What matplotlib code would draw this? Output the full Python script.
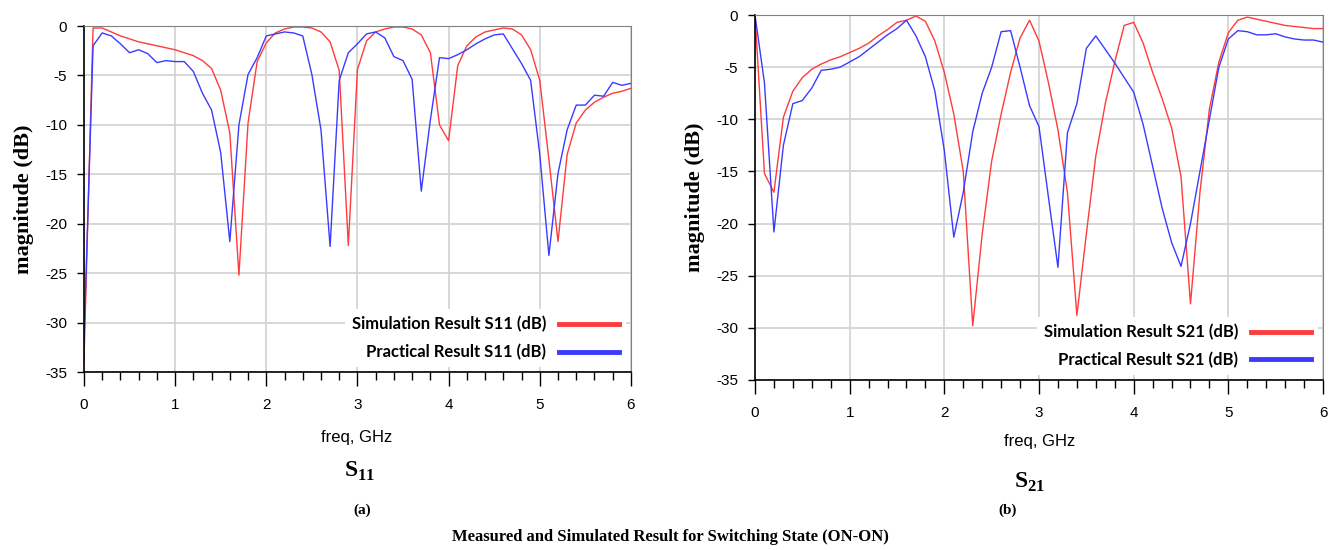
import matplotlib.pyplot as plt
from matplotlib.lines import Line2D
from matplotlib.ticker import MultipleLocator

plt.rcParams["axes.unicode_minus"] = False
plt.rcParams["mathtext.fontset"] = "custom"
plt.rcParams["mathtext.rm"] = "Liberation Serif:bold"
plt.rcParams["mathtext.bf"] = "Liberation Serif:bold"

freq = [round(0.1 * i, 1) for i in range(61)]

s11_sim = [-34.0, -0.2, -0.2, -0.6, -1.0, -1.3, -1.6, -1.8, -2.0, -2.2,
           -2.4, -2.7, -3.0, -3.5, -4.3, -6.5, -10.8, -25.2, -9.8, -3.6,
           -1.7, -0.7, -0.3, -0.1, -0.1, -0.2, -0.6, -1.6, -4.5, -22.2,
           -4.4, -1.5, -0.6, -0.3, -0.1, -0.1, -0.3, -0.9, -2.7, -10.0,
           -11.6, -4.0, -2.0, -1.1, -0.6, -0.4, -0.2, -0.3, -0.9, -2.4,
           -5.5, -13.5, -21.8, -13.0, -9.8, -8.5, -7.7, -7.2, -6.8, -6.6,
           -6.3]
s11_meas = [-32.0, -2.0, -0.7, -1.0, -1.8, -2.7, -2.4, -2.8, -3.7, -3.5,
            -3.6, -3.6, -4.6, -6.8, -8.5, -12.8, -21.8, -10.0, -4.9, -3.2,
            -1.0, -0.8, -0.6, -0.7, -1.0, -4.9, -10.5, -22.3, -5.5, -2.7,
            -1.8, -0.8, -0.6, -1.2, -3.1, -3.5, -5.4, -16.7, -9.5, -3.2,
            -3.3, -2.9, -2.4, -1.8, -1.3, -0.9, -0.8, -2.3, -3.8, -5.5,
            -13.0, -23.2, -14.9, -10.5, -8.0, -8.0, -7.0, -7.1, -5.7, -6.0,
            -5.8]

s21_sim = [0.0, -15.2, -17.0, -9.8, -7.3, -6.0, -5.2, -4.7, -4.3, -4.0,
           -3.6, -3.2, -2.7, -2.0, -1.4, -0.7, -0.5, -0.1, -0.6, -2.5,
           -5.5, -9.5, -15.0, -29.8, -21.0, -14.0, -9.5, -5.5, -2.2, -0.5,
           -2.5, -6.5, -11.0, -17.0, -28.8, -21.0, -13.5, -8.5, -4.5, -1.0,
           -0.7, -2.7, -5.5, -8.0, -10.8, -15.5, -27.7, -17.0, -9.0, -4.5,
           -1.7, -0.5, -0.2, -0.4, -0.6, -0.8, -1.0, -1.1, -1.2, -1.3,
           -1.3]
s21_meas = [0.0, -6.5, -20.8, -12.5, -8.5, -8.2, -7.0, -5.3, -5.2, -5.0,
            -4.5, -4.0, -3.3, -2.6, -1.9, -1.3, -0.5, -2.0, -4.0, -7.3,
            -13.0, -21.3, -17.0, -11.2, -7.5, -5.0, -1.6, -1.5, -5.0, -8.7,
            -10.7, -17.5, -24.2, -11.3, -8.5, -3.2, -2.0, -3.3, -4.6, -6.0,
            -7.4, -10.5, -14.5, -18.5, -21.8, -24.1, -20.0, -15.0, -10.0, -5.0,
            -2.3, -1.5, -1.6, -1.9, -1.9, -1.8, -2.1, -2.3, -2.4, -2.4,
            -2.6]

RED = "#ff3b3b"
BLUE = "#3b3bff"
TICK_FONT = "Liberation Sans"
SERIF = "Liberation Serif"

fig = plt.figure(figsize=(13.41, 5.5), dpi=100)
ax1 = fig.add_axes([0.0626, 0.3236, 0.4079, 0.6291])
ax2 = fig.add_axes([0.5630, 0.3091, 0.4236, 0.6636])


def style_axes(ax, sim, meas, name):
    ax.plot(freq, sim, color=RED, lw=1.0)
    ax.plot(freq, meas, color=BLUE, lw=1.0)
    ax.set_xlim(0, 6)
    ax.set_ylim(-35, 0)
    ax.xaxis.set_major_locator(MultipleLocator(1))
    ax.xaxis.set_minor_locator(MultipleLocator(0.2))
    ax.yaxis.set_major_locator(MultipleLocator(5))
    ax.grid(True, which="major", color="#d4d4d4", lw=1.3)
    ax.set_axisbelow(True)
    ax.tick_params(axis="x", which="major", length=10, width=1, pad=9,
                   labelsize=11)
    ax.tick_params(axis="x", which="minor", length=6, width=1)
    ax.tick_params(axis="y", which="major", length=5, width=1, pad=7,
                   labelsize=11)
    for lab in ax.get_xticklabels() + ax.get_yticklabels():
        lab.set_family(TICK_FONT)
    for side in ("top", "right"):
        ax.spines[side].set_color("#808080")
    for side in ("left", "bottom"):
        ax.spines[side].set_linewidth(1.2)
    ax.set_ylabel("magnitude (dB)", family=SERIF, fontweight="bold",
                  fontsize=16, labelpad=8)
    handles = [Line2D([], [], color=RED, lw=3.5),
               Line2D([], [], color=BLUE, lw=3.5)]
    labels = [f"Simulation Result {name} (dB)", f"Practical Result {name} (dB)"]
    leg = ax.legend(handles, labels, loc="lower right", markerfirst=False,
                    frameon=True, framealpha=1, edgecolor="none",
                    fancybox=False, handlelength=3.6, labelspacing=0.7,
                    borderaxespad=0.3, bbox_to_anchor=(1.0, 0.0),
                    prop={"family": "Lato", "weight": "bold", "size": 12})
    leg.get_frame().set_linewidth(0)


style_axes(ax1, s11_sim, s11_meas, "S11")
style_axes(ax2, s21_sim, s21_meas, "S21")

fig.text(0.266, 0.205, "freq, GHz", family=TICK_FONT, fontsize=12,
         ha="center", va="center")
fig.text(0.775, 0.198, "freq, GHz", family=TICK_FONT, fontsize=12,
         ha="center", va="center")
fig.text(0.268, 0.143, r"$\mathrm{S}_{\mathrm{11}}$", fontsize=17,
         ha="center", va="center")
fig.text(0.768, 0.124, r"$\mathrm{S}_{\mathrm{21}}$", fontsize=17,
         ha="center", va="center")
fig.text(0.27, 0.073, "(a)", family=SERIF, fontweight="bold", fontsize=11,
         ha="center", va="center")
fig.text(0.751, 0.073, "(b)", family=SERIF, fontweight="bold", fontsize=11,
         ha="center", va="center")
fig.text(0.5, 0.024, "Measured and Simulated Result for Switching State (ON-ON)",
         family=SERIF, fontweight="bold", fontsize=12, ha="center", va="center")

fig.savefig("out.png", dpi=100)
